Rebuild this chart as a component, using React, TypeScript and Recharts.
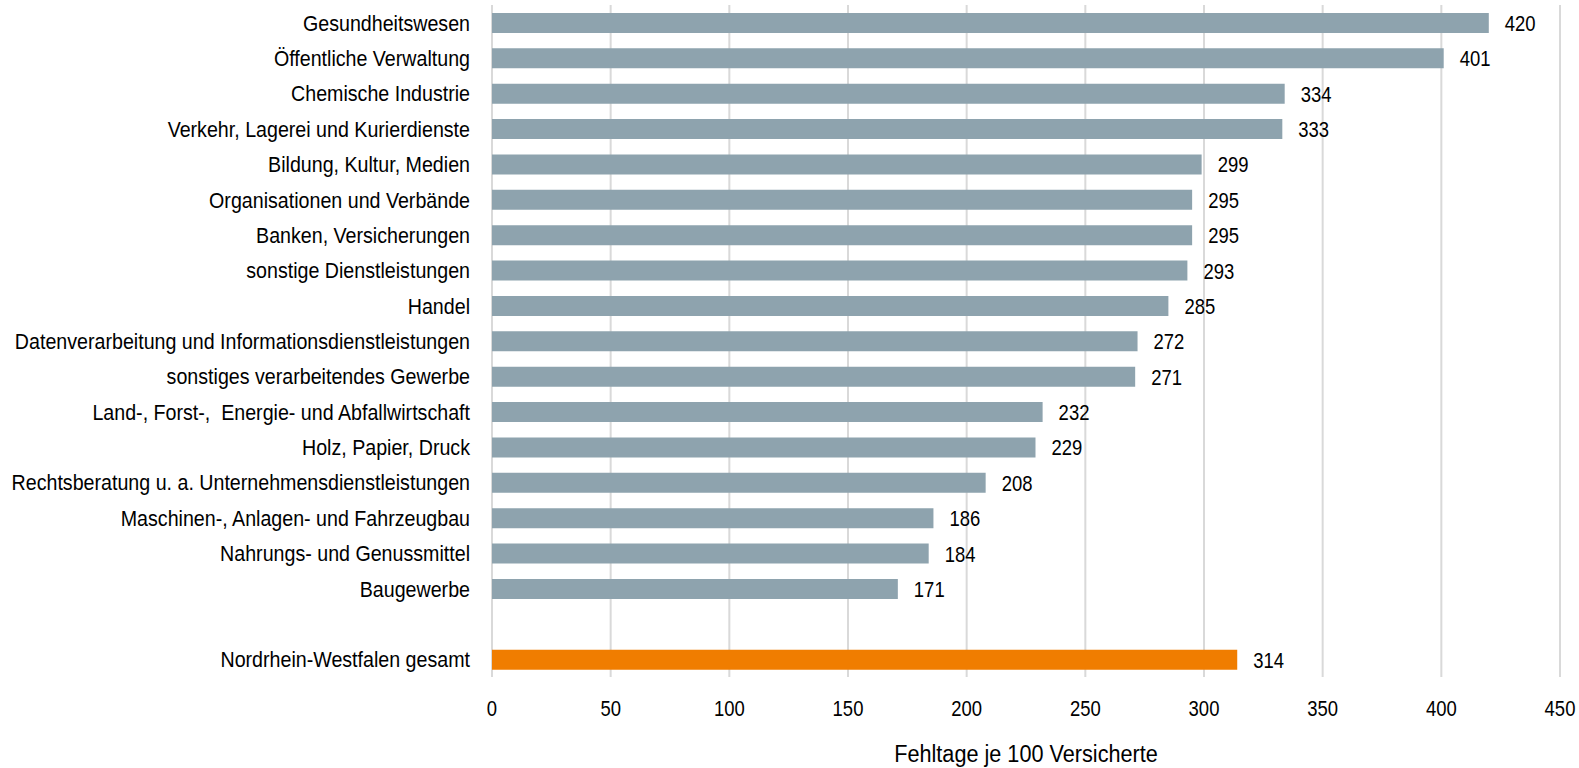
import React from "react";
import { BarChart, Bar, XAxis, YAxis, CartesianGrid, LabelList, Cell } from "recharts";

const categories = [
  "Gesundheitswesen",
  "Öffentliche Verwaltung",
  "Chemische Industrie",
  "Verkehr, Lagerei und Kurierdienste",
  "Bildung, Kultur, Medien",
  "Organisationen und Verbände",
  "Banken, Versicherungen",
  "sonstige Dienstleistungen",
  "Handel",
  "Datenverarbeitung und Informationsdienstleistungen",
  "sonstiges verarbeitendes Gewerbe",
  "Land-, Forst-,  Energie- und Abfallwirtschaft",
  "Holz, Papier, Druck",
  "Rechtsberatung u. a. Unternehmensdienstleistungen",
  "Maschinen-, Anlagen- und Fahrzeugbau",
  "Nahrungs- und Genussmittel",
  "Baugewerbe",
  "",
  "Nordrhein-Westfalen gesamt",
];

const values: (number | null)[] = [
  420, 401, 334, 333, 299, 295, 295, 293, 285, 272, 271, 232, 229, 208, 186, 184, 171, null, 314,
];

const xTicks = [0, 50, 100, 150, 200, 250, 300, 350, 400, 450];

const axisTitle = "Fehltage je 100 Versicherte";
const totalLabel = "Nordrhein-Westfalen gesamt";

const data = categories.map((name, i) => ({ name, value: values[i] }));

const FONT = "'Liberation Sans', Arial, sans-serif";

// the original uses a narrow sans face, so the text is squeezed sideways a bit
const CategoryTick = ({ x, y, payload }: any) => (
  <text
    x={0}
    y={0}
    transform={`translate(${x},${y + 8}) scale(0.914,1)`}
    textAnchor="end"
    fill="#000"
    fontSize={21.5}
    fontFamily={FONT}
    style={{ whiteSpace: "pre" }}
  >
    {payload.value}
  </text>
);

const ValueTick = ({ x, y, payload }: any) => (
  <text
    x={0}
    y={0}
    transform={`translate(${x},${y + 16}) scale(0.84,1)`}
    textAnchor="middle"
    fill="#000"
    fontSize={22}
    fontFamily={FONT}
  >
    {payload.value}
  </text>
);

const BarValue = (props: any) => {
  const { x, y, width, height, value } = props;
  if (value == null) return null;
  return (
    <text
      x={0}
      y={0}
      transform={`translate(${x + width + 16},${y + height / 2 + 8}) scale(0.84,1)`}
      fill="#000"
      fontSize={22}
      fontFamily={FONT}
    >
      {value}
    </text>
  );
};

const AxisTitle = (props: any) => {
  const { x, width } = props.viewBox;
  return (
    <text
      x={0}
      y={0}
      transform={`translate(${x + width / 2},762) scale(0.93,1)`}
      textAnchor="middle"
      fill="#000"
      fontSize={23.3}
      fontFamily={FONT}
    >
      {axisTitle}
    </text>
  );
};

export default function App() {
  return (
    <div style={{ position: "absolute", left: 0, top: 0, background: "#fff", fontFamily: FONT }}>
      <BarChart
        width={1579}
        height={768}
        data={data}
        layout="vertical"
        margin={{ top: 5, right: 19, bottom: 0, left: 0 }}
        barSize={20}
      >
        <CartesianGrid horizontal={false} stroke="#d9d9d9" strokeWidth={2} />
        <XAxis
          type="number"
          domain={[0, 450]}
          ticks={xTicks}
          axisLine={false}
          tickLine={false}
          tickSize={0}
          tickMargin={23}
          height={91}
          tick={<ValueTick />}
          label={{ content: AxisTitle }}
        />
        <YAxis
          type="category"
          dataKey="name"
          width={492}
          axisLine={false}
          tickLine={false}
          tickSize={0}
          tickMargin={22}
          interval={0}
          tick={<CategoryTick />}
        />
        <Bar dataKey="value" fill="#8ea3ae" isAnimationActive={false}>
          {data.map((d) => (
            <Cell key={d.name || "gap"} fill={d.name === totalLabel ? "#f07d00" : "#8ea3ae"} />
          ))}
          <LabelList dataKey="value" content={BarValue} />
        </Bar>
      </BarChart>
    </div>
  );
}
